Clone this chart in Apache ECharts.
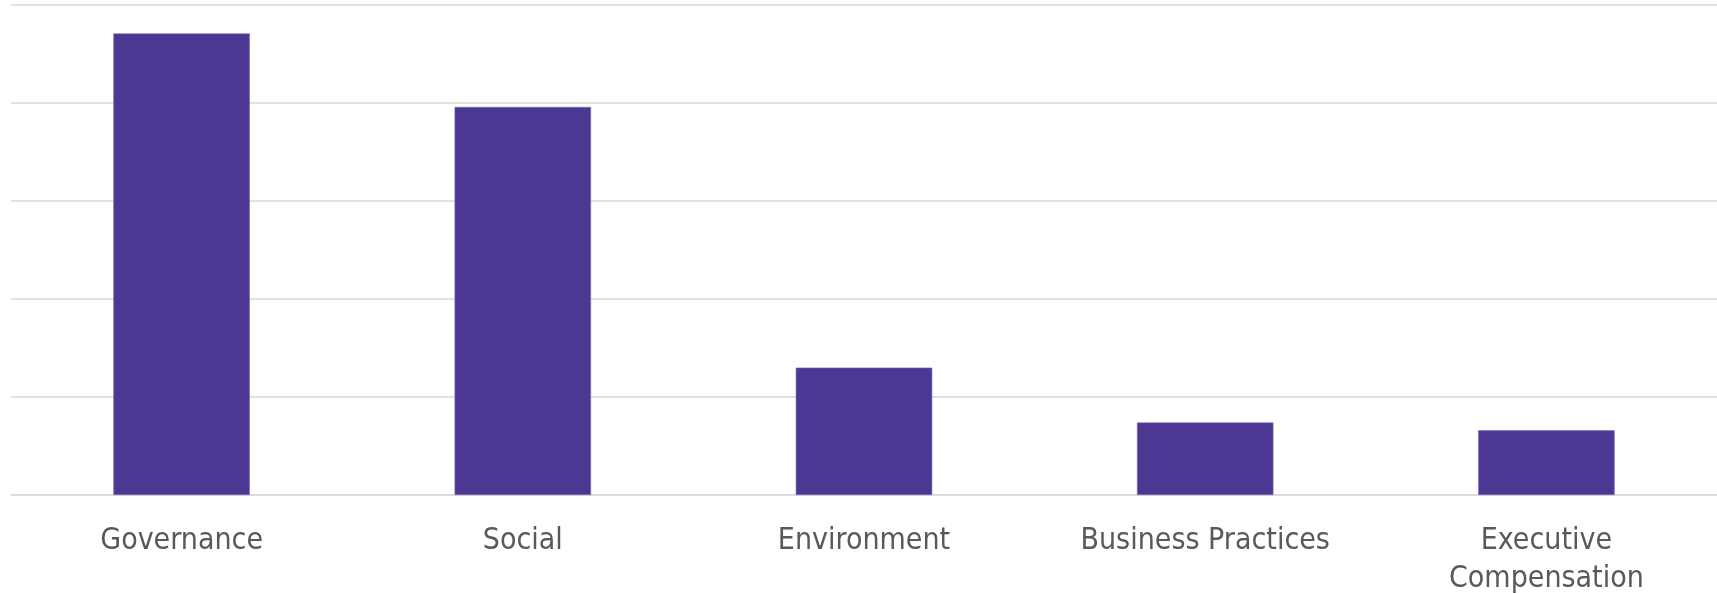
<!DOCTYPE html>
<html>
<head>
<meta charset="utf-8">
<script src="https://cdn.jsdelivr.net/npm/echarts@6/dist/echarts.min.js"></script>
<style>
  html, body { margin: 0; padding: 0; background: #ffffff; }
  #chart { width: 1717px; height: 594px; }
</style>
</head>
<body>
<div id="chart"></div>
<script>
// Issue categories and their share of proposals
const categories = ['Governance', 'Social', 'Environment', 'Business Practices', 'Executive\nCompensation'];
const values = [47.1, 39.6, 13.0, 7.4, 6.6];
const yTicks = { min: 0, max: 50, interval: 10 };

const chart = echarts.init(document.getElementById('chart'), null, { renderer: 'canvas' });
chart.setOption({
  animation: false,
  grid: { left: 11, right: 0, top: 5, bottom: 99, containLabel: false, outerBoundsMode: 'none' },
  xAxis: {
    type: 'category',
    data: categories,
    axisLine: { show: true, lineStyle: { color: '#d9d9d9', width: 1.5 } },
    axisTick: { show: false },
    axisLabel: {
      interval: 0,
      margin: 27,
      color: '#595959',
      fontFamily: '"DejaVu Sans Condensed", "DejaVu Sans"',
      fontStretch: 'condensed',
      fontSize: 30,
      lineHeight: 38
    }
  },
  yAxis: {
    type: 'value',
    min: yTicks.min,
    max: yTicks.max,
    interval: yTicks.interval,
    axisLabel: { show: false },
    axisLine: { show: false },
    axisTick: { show: false },
    splitLine: { show: true, lineStyle: { color: '#d9d9d9', width: 1.5 } }
  },
  series: [{
    type: 'bar',
    data: values,
    barCategoryGap: '60%',
    itemStyle: { color: '#4c3892', borderColor: '#7a6bb5', borderWidth: 0.6 }
  }]
});
</script>
</body>
</html>
